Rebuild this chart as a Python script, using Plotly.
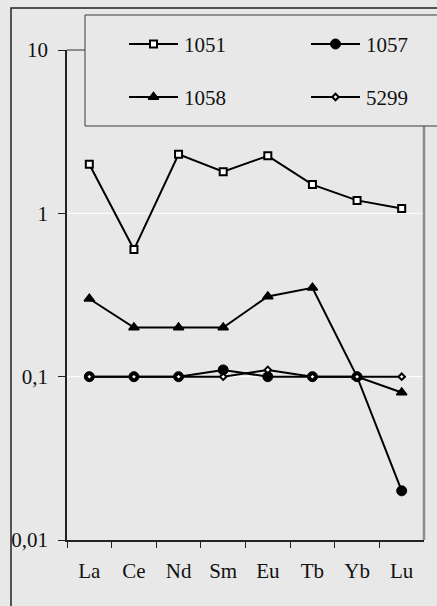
import plotly.graph_objects as go

# Chondrite-normalised REE values per sample
elements = ["La", "Ce", "Nd", "Sm", "Eu", "Tb", "Yb", "Lu"]
s1051 = [2.0, 0.6, 2.3, 1.8, 2.25, 1.5, 1.2, 1.07]
s1057 = [0.1, 0.1, 0.1, 0.11, 0.1, 0.1, 0.1, 0.02]
s1058 = [0.3, 0.2, 0.2, 0.2, 0.31, 0.35, 0.1, 0.08]
s5299 = [0.1, 0.1, 0.1, 0.1, 0.11, 0.1, 0.1, 0.1]
series_names = ["1051", "1057", "1058", "5299"]
series_values = [s1051, s1057, s1058, s5299]

y_tickvals = [0.01, 0.1, 1, 10]
y_ticktext = ["0,01", "0,1", "1", "10"]
grid_values = [0.1, 1]

W, H = 437, 606
BG = "#e8e8e8"
FONT = "Liberation Serif"
FSIZE = 21
INK = "#111111"

# plot-area box in pixels
PL, PR, PT, PB = 67, 424, 50, 540
# legend box in pixels
LX0, LY0, LY1 = 85, 15, 126


def fx(x):
    return x / W


def fy(y):
    return 1 - y / H


marker_styles = {
    "1051": dict(symbol="square", size=7, color="white", line=dict(color="black", width=2)),
    "1057": dict(symbol="circle", size=10, color="black", line=dict(color="black", width=1)),
    "1058": dict(symbol="triangle-up", size=9, color="black", line=dict(color="black", width=1.5)),
    "5299": dict(symbol="diamond", size=5, color="white", line=dict(color="black", width=2)),
}

fig = go.Figure()

for name, vals in zip(series_names, series_values):
    fig.add_trace(go.Scatter(
        x=elements, y=vals, mode="lines+markers", name=name,
        line=dict(color="black", width=2),
        marker=marker_styles[name],
        xaxis="x", yaxis="y", showlegend=False, cliponaxis=False,
    ))

# Hand-built legend: samples drawn on a full-figure pixel axis pair
legend_rows = [44, 97]
legend_cols = [(129, 178, 182), (311, 360, 364)]
annotations = []
for i, name in enumerate(series_names):
    row, col = divmod(i, 2)
    x0, x1, xt = legend_cols[col]
    yy = legend_rows[row]
    fig.add_trace(go.Scatter(
        x=[x0, x1], y=[yy, yy], mode="lines",
        line=dict(color="black", width=2),
        xaxis="x2", yaxis="y2", showlegend=False, hoverinfo="skip",
    ))
    fig.add_trace(go.Scatter(
        x=[(x0 + x1) / 2], y=[yy], mode="markers",
        marker=marker_styles[name],
        xaxis="x2", yaxis="y2", showlegend=False, hoverinfo="skip",
    ))
    annotations.append(dict(
        x=fx(xt), y=fy(yy + 1), xref="paper", yref="paper", text=name, showarrow=False,
        xanchor="left", yanchor="middle",
        font=dict(family=FONT, size=FSIZE, color=INK),
    ))

shapes = []
# white horizontal gridlines
for g in grid_values:
    shapes.append(dict(type="line", xref="paper", yref="y", x0=fx(PL), x1=fx(PR), y0=g, y1=g,
                       line=dict(color="white", width=1), layer="below"))
shapes += [
    # grey plot-area frame: top (left of the legend) and right (below the legend)
    dict(type="line", xref="paper", yref="paper", x0=fx(PL), x1=fx(LX0), y0=fy(PT), y1=fy(PT),
         line=dict(color="#8c8c8c", width=2), layer="below"),
    dict(type="line", xref="paper", yref="paper", x0=fx(PR), x1=fx(PR), y0=fy(LY1), y1=fy(PB),
         line=dict(color="#8c8c8c", width=2.5), layer="below"),
    # chart-area border
    dict(type="rect", xref="paper", yref="paper", x0=fx(11), y0=fy(8), x1=fx(W + 20), y1=fy(H + 20),
         line=dict(color="#222222", width=1.5), fillcolor="rgba(0,0,0,0)", layer="below"),
    # legend frame
    dict(type="rect", xref="paper", yref="paper", x0=fx(LX0), y0=fy(LY0), x1=fx(W + 20), y1=fy(LY1),
         line=dict(color="#3a3a3a", width=1), fillcolor="rgba(0,0,0,0)", layer="below"),
]

fig.update_layout(
    width=W, height=H,
    margin=dict(l=0, r=0, t=0, b=0, autoexpand=False),
    paper_bgcolor=BG, plot_bgcolor="rgba(0,0,0,0)",
    showlegend=False,
    xaxis=dict(
        domain=[fx(PL), fx(PR)], type="category", range=[-0.5, 7.5],
        tickson="boundaries", ticks="outside", ticklen=6, tickwidth=1, tickcolor="#222222",
        showline=True, linecolor="#222222", linewidth=2, showgrid=False, zeroline=False,
        tickfont=dict(family=FONT, size=FSIZE, color=INK), ticklabelstandoff=11,
        anchor="y", automargin=False,
    ),
    yaxis=dict(
        domain=[fy(PB), fy(PT)], type="log", range=[-2, 1],
        tickvals=y_tickvals, ticktext=y_ticktext,
        ticks="outside", ticklen=7, tickwidth=1, tickcolor="#222222",
        showline=True, linecolor="#222222", linewidth=1.5,
        showgrid=False, zeroline=False,
        tickfont=dict(family=FONT, size=FSIZE, color=INK), ticklabelstandoff=6,
        anchor="x", automargin=False,
    ),
    xaxis2=dict(domain=[0, 1], range=[0, W], visible=False, anchor="y2", fixedrange=True,
                automargin=False),
    yaxis2=dict(domain=[0, 1], range=[H, 0], visible=False, anchor="x2", fixedrange=True,
                automargin=False),
    shapes=shapes,
    annotations=annotations,
)

fig.write_html("out.html")
